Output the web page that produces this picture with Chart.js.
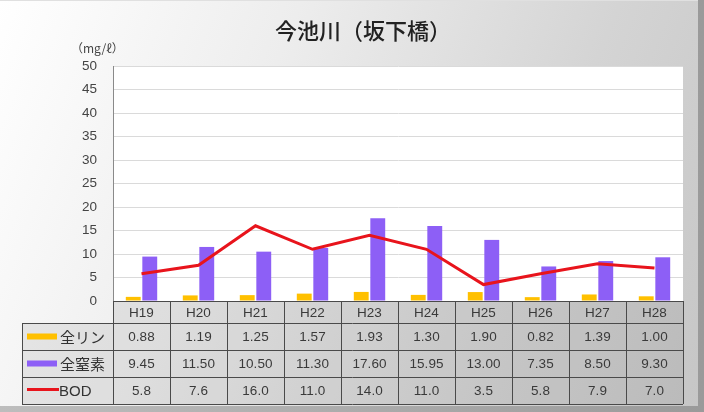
<!DOCTYPE html>
<html>
<head>
<meta charset="utf-8">
<script src="https://cdn.jsdelivr.net/npm/chart.js@4"></script>
<style>
html, body { margin: 0; padding: 0; }
body { width: 704px; height: 412px; overflow: hidden; position: relative;
  background: linear-gradient(90deg, #bdbdbd, #9a9a9a); }
#panel { position: absolute; left: 0; top: 0; width: 698px; height: 406px;
  background: linear-gradient(112deg, #ffffff 0%, #ededed 35%, #d4d4d4 72%, #c6c6c6 100%);
  border-top: 1px solid #e0e0e0; box-sizing: border-box; }
#chart { position: absolute; left: 0; top: 0; }
</style>
</head>
<body>
<div id="panel"></div>
<canvas id="chart" width="704" height="412"></canvas>
<script>
var years = ['H19', 'H20', 'H21', 'H22', 'H23', 'H24', 'H25', 'H26', 'H27', 'H28'];
var phosphorus = [0.88, 1.19, 1.25, 1.57, 1.93, 1.30, 1.90, 0.82, 1.39, 1.00];
var nitrogen = [9.45, 11.50, 10.50, 11.30, 17.60, 15.95, 13.00, 7.35, 8.50, 9.30];
var bod = [5.8, 7.6, 16.0, 11.0, 14.0, 11.0, 3.5, 5.8, 7.9, 7.0];

var chartTitle = '今池川（坂下橋）';
var unitLabel = '（mg/ℓ）';

var numFont = '13.5px "Liberation Sans", Arial, sans-serif';
var jpFont = '"Noto Sans CJK JP", sans-serif';

// rows of the table under the plot: label, colour, kind, values, decimals
var rows = [
    { label: '全リン', color: '#ffc000', kind: 'bar', values: phosphorus, digits: 2 },
    { label: '全窒素', color: '#8d5ff6', kind: 'bar', values: nitrogen, digits: 2 },
    { label: 'BOD', color: '#e8141c', kind: 'line', values: bod, digits: 1 }
];

// white plot background, title and unit label
var plotBack = {
    id: 'plotBack',
    beforeDraw: function(chart) {
        var ctx = chart.ctx, a = chart.chartArea;
        ctx.save();
        ctx.fillStyle = '#ffffff';
        ctx.fillRect(a.left, a.top, a.right - a.left, a.bottom - a.top);
        ctx.textBaseline = 'middle';
        ctx.textAlign = 'center';
        ctx.fillStyle = '#222';
        ctx.font = '500 22px ' + jpFont;
        ctx.fillText(chartTitle, 363, 31);
        ctx.textAlign = 'left';
        ctx.fillStyle = '#444';
        ctx.font = '12px ' + jpFont;
        ctx.fillText(unitLabel, 71, 48);
        ctx.restore();
    }
};

// data table with legend keys
var dataTable = {
    id: 'dataTable',
    afterDraw: function(chart) {
        var ctx = chart.ctx, a = chart.chartArea, xs = chart.scales.x;
        var colW = (a.right - a.left) / years.length;
        var lines = [a.bottom, a.bottom + 22, a.bottom + 49, a.bottom + 76, a.bottom + 103];
        var keyLeft = 22;
        ctx.save();

        ctx.fillStyle = 'rgba(110,110,110,0.12)';
        ctx.fillRect(a.left, lines[0], a.right - a.left, lines[1] - lines[0]);
        ctx.fillRect(keyLeft, lines[1], a.right - keyLeft, lines[4] - lines[1]);

        ctx.strokeStyle = '#4a4a4a';
        ctx.lineWidth = 1;
        ctx.beginPath();
        ctx.moveTo(a.left, lines[0] + 0.5);
        ctx.lineTo(a.right, lines[0] + 0.5);
        for (var r = 1; r < lines.length; r++) {
            ctx.moveTo(keyLeft, lines[r] + 0.5);
            ctx.lineTo(a.right, lines[r] + 0.5);
        }
        ctx.moveTo(keyLeft + 0.5, lines[1]);
        ctx.lineTo(keyLeft + 0.5, lines[4]);
        for (var c = 0; c <= years.length; c++) {
            var lx = Math.round(a.left + c * colW) + 0.5;
            ctx.moveTo(lx, lines[0]);
            ctx.lineTo(lx, lines[4]);
        }
        ctx.stroke();

        ctx.textAlign = 'center';
        ctx.textBaseline = 'middle';
        ctx.fillStyle = '#3a3a3a';
        ctx.font = numFont;
        years.forEach(function(y, i) {
            ctx.fillText(y, xs.getPixelForValue(i), (lines[0] + lines[1]) / 2 + 1);
        });

        rows.forEach(function(row, r) {
            var cy = (lines[r + 1] + lines[r + 2]) / 2 + 1;
            ctx.font = numFont;
            ctx.fillStyle = '#3a3a3a';
            ctx.textAlign = 'center';
            row.values.forEach(function(v, i) {
                ctx.fillText(v.toFixed(row.digits), xs.getPixelForValue(i), cy);
            });
            // legend key
            if (row.kind === 'bar') {
                ctx.fillStyle = row.color;
                ctx.fillRect(27, cy - 4, 30, 6);
            } else {
                ctx.strokeStyle = row.color;
                ctx.lineWidth = 3;
                ctx.beginPath();
                ctx.moveTo(27, cy - 2);
                ctx.lineTo(59, cy - 2);
                ctx.stroke();
            }
            ctx.fillStyle = '#333';
            ctx.textAlign = 'left';
            ctx.font = row.kind === 'bar' ? '15px ' + jpFont : '15px "Liberation Sans", Arial, sans-serif';
            ctx.fillText(row.label, row.kind === 'bar' ? 60 : 59, cy);
        });
        ctx.restore();
    }
};

new Chart(document.getElementById('chart'), {
    type: 'bar',
    data: {
        labels: years,
        datasets: [
            {
                type: 'line',
                label: 'BOD',
                data: bod,
                borderColor: '#e8141c',
                borderWidth: 3,
                pointRadius: 0,
                tension: 0,
                order: 0
            },
            {
                label: '全リン',
                data: phosphorus,
                backgroundColor: '#ffc000',
                categoryPercentage: 0.58,
                barPercentage: 0.9,
                order: 1
            },
            {
                label: '全窒素',
                data: nitrogen,
                backgroundColor: '#8d5ff6',
                categoryPercentage: 0.58,
                barPercentage: 0.9,
                order: 1
            }
        ]
    },
    options: {
        responsive: false,
        animation: false,
        devicePixelRatio: 1,
        layout: { padding: { left: 0, right: 21, top: 66, bottom: 0 } },
        plugins: {
            legend: { display: false },
            tooltip: { enabled: false },
            title: { display: false }
        },
        scales: {
            x: {
                grid: { display: false },
                border: { display: false },
                ticks: { display: false },
                afterFit: function(scale) { scale.height = 111; }
            },
            y: {
                min: 0,
                max: 50,
                ticks: { stepSize: 5, padding: 16, color: '#444', font: { family: '"Liberation Sans", Arial, sans-serif', size: 13.5 } },
                grid: { color: '#dadada', drawTicks: false },
                border: { color: '#8a8a8a', width: 1 },
                afterFit: function(scale) { scale.width = 113; }
            }
        }
    },
    plugins: [plotBack, dataTable]
});
</script>
</body>
</html>
